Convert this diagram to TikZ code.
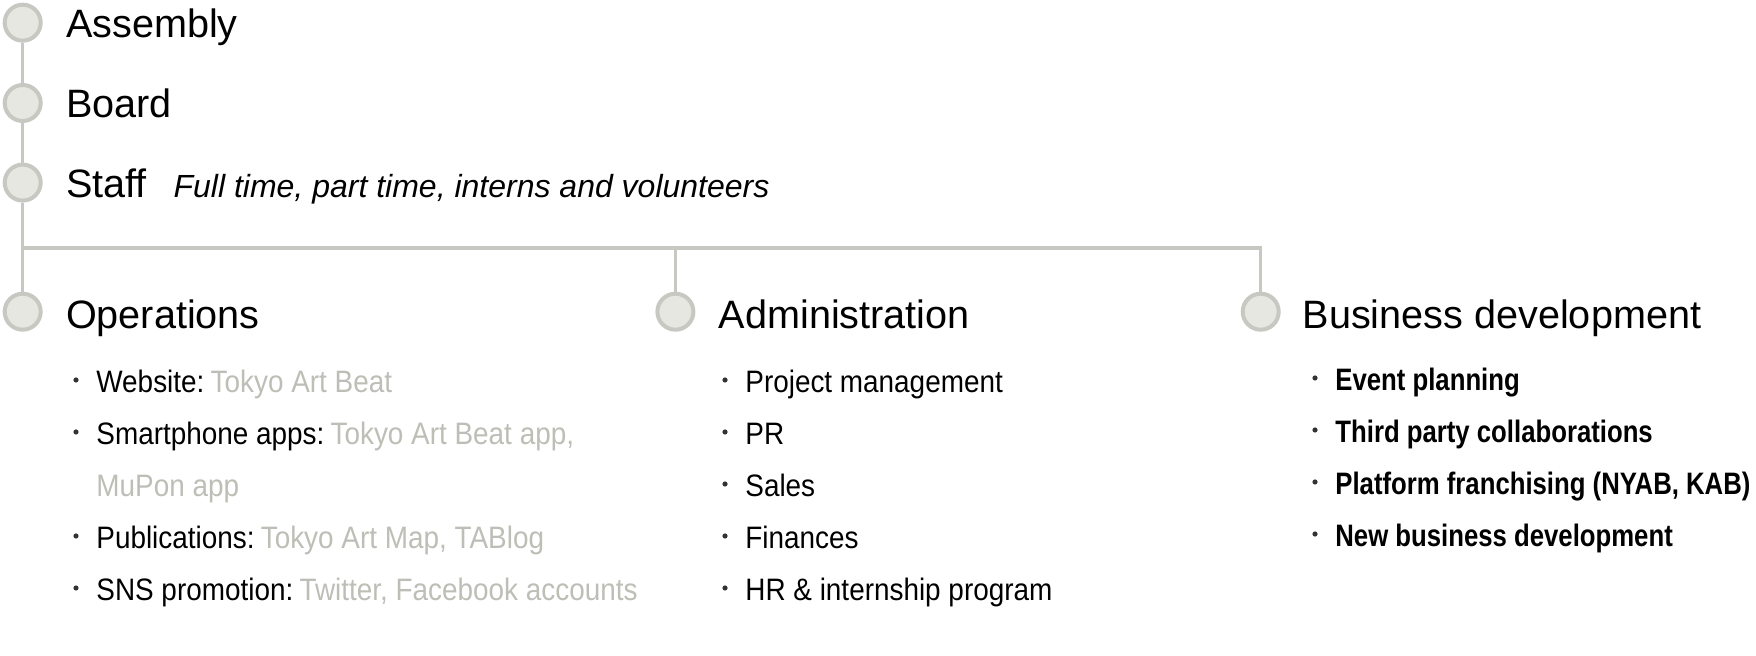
\documentclass[tikz,border=0pt]{standalone}
\usepackage{fontspec}
\setmainfont{Liberation Sans}
\newfontfamily\itemfont[FakeStretch=0.9]{Liberation Sans}
\newfontfamily\bizfont[FakeStretch=0.83]{Liberation Sans}
\usetikzlibrary{positioning}
\definecolor{LineGray}{HTML}{C6C8C1}
\definecolor{DotFill}{HTML}{E6E7E0}
\definecolor{SoftGray}{HTML}{BDBEB6}
\definecolor{BulletDark}{HTML}{333333}

\begin{document}
\begin{tikzpicture}[x=0.5pt, y=-0.5pt,
  dot/.style={circle, draw=LineGray, fill=DotFill, line width=2pt, minimum size=18pt, inner sep=0pt},
  head/.style={font=\fontsize{19.8pt}{23pt}\selectfont, inner sep=0pt, text height=14.2pt, text depth=0pt, anchor=west, yshift=-0.4pt},
  note/.style={font=\itshape\fontsize{16pt}{19pt}\selectfont, inner sep=0pt, anchor=base west},
  item/.style={font=\itemfont\fontsize{15.5pt}{18pt}\selectfont, inner sep=0pt, anchor=base west},
  bizitem/.style={item, font=\bizfont\bfseries\fontsize{15.5pt}{18pt}\selectfont},
  bul/.style={circle, fill=BulletDark, inner sep=0pt, minimum size=2.6pt},
  link/.style={draw=LineGray, line width=1.65pt}
]
  \useasboundingbox (0,0) rectangle (1756,656);

  % Levels
  \node[dot] (asm) at (22.7,22.7) {};
  \node[dot] (board) at (22.7,103) {};
  \node[dot] (staff) at (22.7,182.6) {};
  \coordinate (hub) at (22.7,248);
  \node[dot] (ops) at (22.7,311.7) {};
  \node[dot] (adm) at (675.4,311.7) {};
  \node[dot] (biz) at (1260.7,311.7) {};

  % Connections
  \draw[link] (asm) -- (board);
  \draw[link] (board) -- (staff);
  \draw[link] (staff) -- (hub) -- (ops);
  \draw[link] (hub) -- (hub -| biz) -- (biz);
  \draw[link] (hub -| adm) -- (adm);

  % Headings
  \node[head, right=11.5pt of asm] (asmT) {Assembly};
  \node[head, right=11.5pt of board] (boardT) {Board};
  \node[head, right=11.5pt of staff] (staffT) {Staff};
  \node[note] (staffN) at ([xshift=13pt]staffT.base east) {Full time, part time, interns and volunteers};
  \node[head, right=11.5pt of ops, yshift=-0.8pt] (opsT) {Operations};
  \node[head, right=11.5pt of adm, yshift=-0.8pt] (admT) {Administration};
  \node[head, right=10.8pt of biz, yshift=-0.8pt] (bizT) {Business development};

  % Operations
  \node[item] (opsA) at (96,393) {Website:\hspace{0.2em}\textcolor{SoftGray}{Tokyo Art Beat}};
  \node[item] (opsB) at (96,445) {Smartphone apps:\hspace{0.2em}\textcolor{SoftGray}{Tokyo Art Beat app,}};
  \node[item] (opsC) at (96,497) {\textcolor{SoftGray}{MuPon app}};
  \node[item] (opsD) at (96,549) {Publications:\hspace{0.2em}\textcolor{SoftGray}{Tokyo Art Map, TABlog}};
  \node[item] (opsE) at (96,601) {SNS promotion:\hspace{0.2em}\textcolor{SoftGray}{Twitter, Facebook accounts}};

  % Administration
  \node[item] (admA) at (745,393) {Project management};
  \node[item] (admB) at (745,445) {PR};
  \node[item] (admC) at (745,497) {Sales};
  \node[item] (admD) at (745,549) {Finances};
  \node[item] (admE) at (745,601) {HR \& internship program};

  % Business development
  \node[bizitem] (bizA) at (1335,391) {Event planning};
  \node[bizitem] (bizB) at (1335,443) {Third party collaborations};
  \node[bizitem] (bizC) at (1335,495) {Platform franchising (NYAB, KAB)};
  \node[bizitem] (bizD) at (1335,547) {New business development};

  \foreach \n in {opsA,opsB,opsD,opsE,admA,admB,admC,admD,admE,bizA,bizB,bizC,bizD}
    \node[bul] (\n-b) at ([xshift=-10pt,yshift=6.5pt]\n.base west) {};

\end{tikzpicture}
\end{document}
